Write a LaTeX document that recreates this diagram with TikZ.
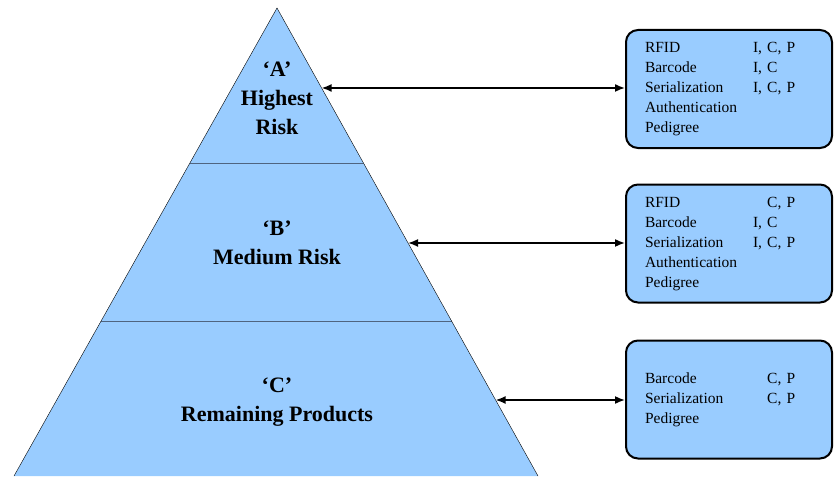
\documentclass[tikz,border=0pt]{standalone}
\usepackage{fontspec}
\setmainfont{Liberation Serif}
\usetikzlibrary{arrows.meta,calc,positioning}
\definecolor{tierblue}{HTML}{99CCFF}
\definecolor{tierline}{HTML}{4F6480}

\begin{document}
\begin{tikzpicture}[x=1pt, y=-1pt, >={Latex[length=10pt,width=8pt]},
    tier/.style={align=center, font=\fontsize{22}{29}\selectfont\bfseries},
    idbox/.style={draw, line width=2pt, fill=tierblue, rounded corners=12pt, minimum height=118pt, text width=168pt, inner xsep=19pt, align=left, font=\fontsize{15.5}{20}\selectfont},
    link/.style={<->, line width=1.6pt}]
    \useasboundingbox (0,0) rectangle (834,476);

    %% Pyramid
    \coordinate (apex) at (277,8);
    \coordinate (baseL) at (14,476);
    \coordinate (baseR) at (538,476);
    \fill[tierblue] (apex) -- (baseL) -- (baseR) -- cycle;
    \draw[tierline] ($(apex)!0.3312!(baseL)$) -- ($(apex)!0.3312!(baseR)$);
    \draw[tierline] ($(apex)!0.6688!(baseL)$) -- ($(apex)!0.6688!(baseR)$);
    \draw (baseL) -- (apex) -- (baseR);
    \coordinate (edgeA) at ($(apex)!0.1709!(baseR)$);
    \coordinate (edgeB) at ($(apex)!0.5021!(baseR)$);
    \coordinate (edgeC) at ($(apex)!0.8376!(baseR)$);

    \node at (277,98) [tier] (tierA) {`A'\\Highest\\Risk};
    \node at (277,243) [tier] (tierB) {`B'\\Medium Risk};
    \node at (277,402) [tier] (tierC) {`C'\\Remaining Products};

    %% Boxes
    \node at (729,89) [idbox] (boxA) {\begin{tabular}{@{}p{108pt}@{}l@{}}
        RFID & I, C, P\\ Barcode & I, C\\ Serialization & I, C, P\\ Authentication & \\ Pedigree &
      \end{tabular}};
    \node at (729,243.5) [idbox] (boxB) {\begin{tabular}{@{}p{108pt}@{}l@{}}
        RFID & \hphantom{I, }C, P\\ Barcode & I, C\\ Serialization & I, C, P\\ Authentication & \\ Pedigree &
      \end{tabular}};
    \node at (729,399.5) [idbox] (boxC) {\begin{tabular}{@{}p{108pt}@{}l@{}}
        Barcode & \hphantom{I, }C, P\\ Serialization & \hphantom{I, }C, P\\ Pedigree &
      \end{tabular}};

    %% Arrows
    \draw [link] (edgeA) -- (edgeA -| boxA.west);
    \draw [link] (edgeB) -- (edgeB -| boxB.west);
    \draw [link] (edgeC) -- (edgeC -| boxC.west);
\end{tikzpicture}
\end{document}
